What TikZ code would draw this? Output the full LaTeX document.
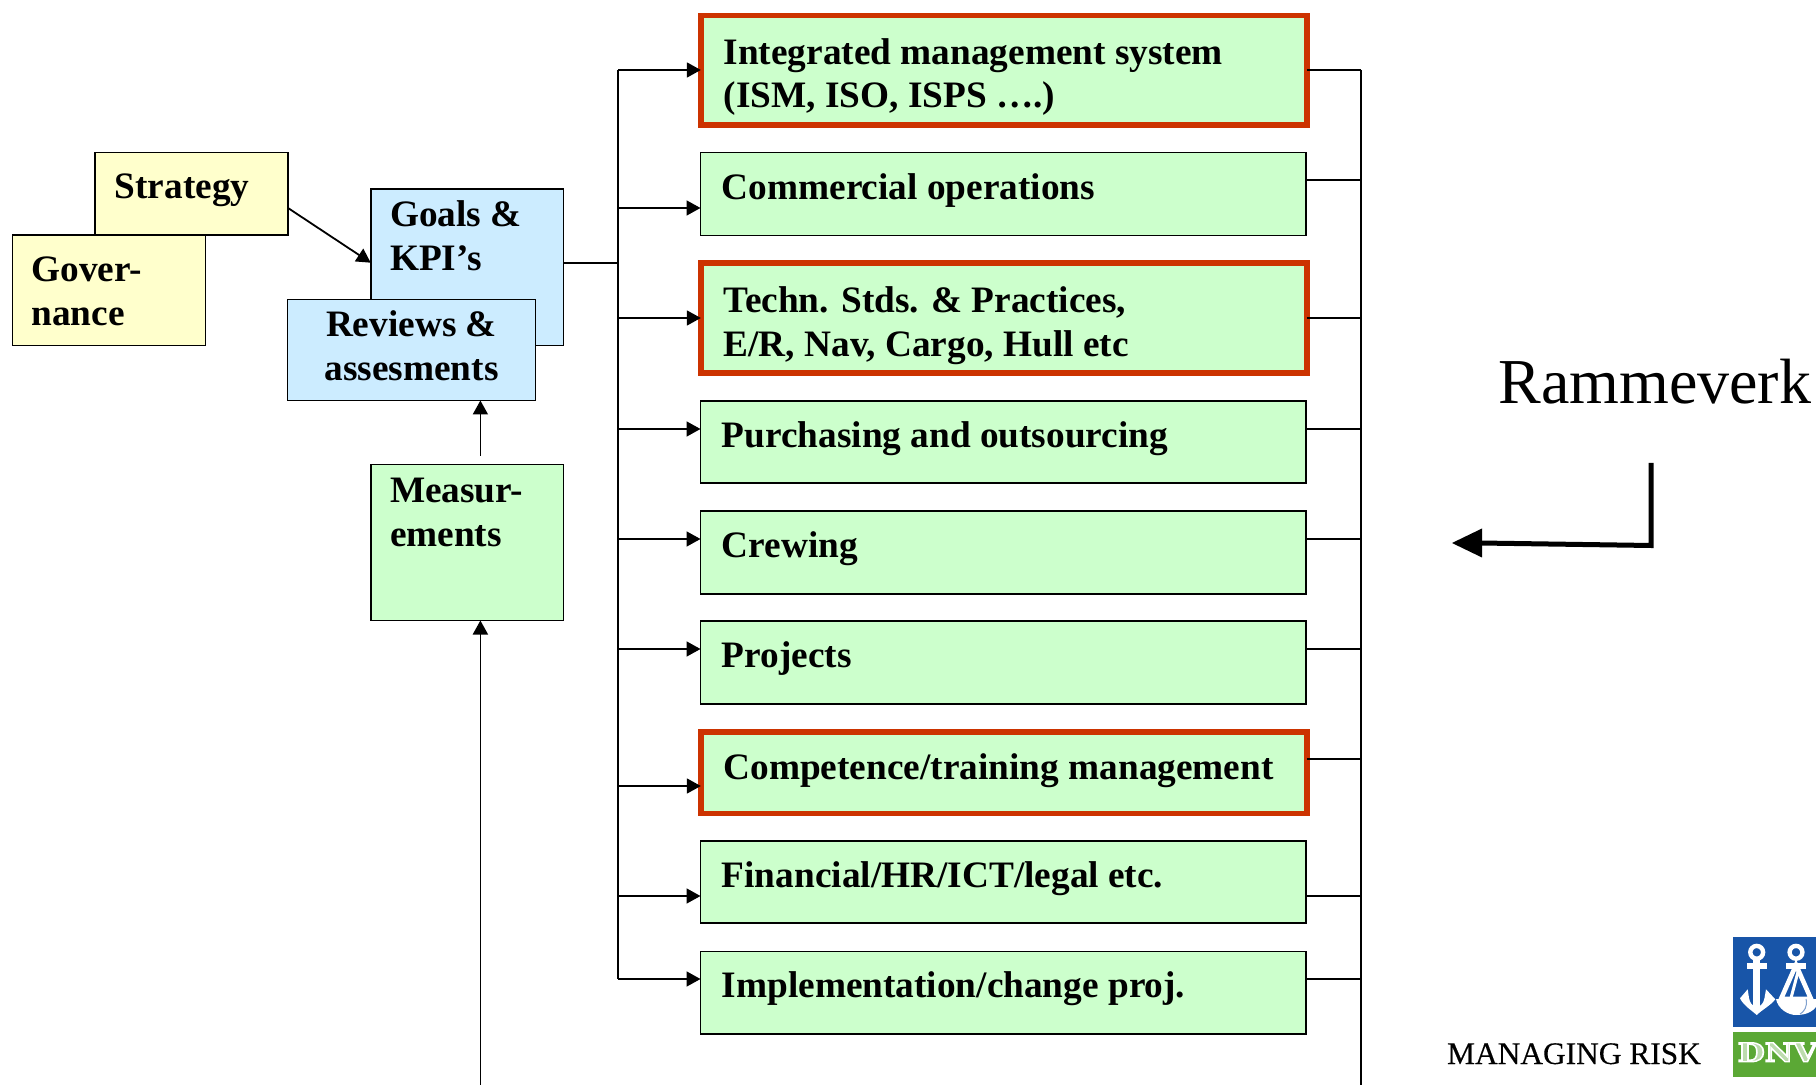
\documentclass[tikz,border=0pt]{standalone}
\usepackage{fontspec}
\setmainfont{Liberation Serif}
\newfontfamily\slabfont{DejaVu Serif}
\usetikzlibrary{arrows.meta}
\definecolor{boxgreen}{HTML}{CCFFCC}
\definecolor{boxblue}{HTML}{CCECFF}
\definecolor{boxyellow}{HTML}{FFFFCC}
\definecolor{boxred}{HTML}{CC3300}
\definecolor{logoblue}{HTML}{1855A8}
\definecolor{logogreen}{HTML}{5BA835}
\tikzset{
  basebox/.style={draw=black,line width=0.9pt,inner sep=0pt,outer sep=0pt,font=\fontsize{18.65}{21.9}\selectfont\bfseries},
  ybox/.style={basebox,fill=boxyellow},
  bbox/.style={basebox,fill=boxblue},
  gbox/.style={basebox,fill=boxgreen},
  rbox/.style={basebox,fill=boxgreen,draw=boxred,line width=2.8pt},
  conn/.style={draw=black,line width=0.9pt},
  arr/.style={conn,-{Triangle[length=7pt,width=7.5pt]}},
  bigarr/.style={draw=black,line width=2.5pt}
}
\newcommand{\bx}[9]{%
  \pgfmathsetmacro\bw{(#5-#3)/2}%
  \pgfmathsetmacro\bh{(#6-#4)/2}%
  \pgfmathsetmacro\bl{(#7-#3)/2}%
  \pgfmathsetmacro\bb{(#8-#4)/2}%
  \node[#2,anchor=north west] (#1) at (#3,#4) {\parbox[t][\bh pt][t]{\bw pt}{\leftskip=\bl pt \rightskip=0pt plus 1fil \parindent=0pt \rule{0pt}{\bb pt}#9}};%
}
\begin{document}
\begin{tikzpicture}[x=0.5pt,y=-0.5pt]
\useasboundingbox (0,0) rectangle (1816,1085);
% left boxes
\bx{strategy}{ybox}{95}{152.5}{288}{235}{114.7}{199}{Strategy}
\bx{gov}{ybox}{12.5}{235}{205.5}{345.5}{31.6}{282}{Gover-\\nance}
\bx{goals}{bbox}{370.7}{189}{563.5}{345.5}{390}{227}{Goals \&\\KPI’s}
\bx{reviews}{bbox}{287.5}{299.5}{535.5}{400.5}{287.5}{336.7}{\centering Reviews \&\\assesments}
\bx{meas}{gbox}{370.7}{464.5}{563.5}{620.5}{390}{502.5}{Measur-\\ements}
% process boxes
\bx{r1}{rbox}{700.8}{15.5}{1306.8}{125.2}{723.6}{64.2}{Integrated management system\\(ISM, ISO, ISPS ….)}
\bx{r2}{gbox}{700.5}{152.5}{1306.2}{235.5}{721.8}{200}{Commercial operations}
\bx{r3}{rbox}{700.8}{263}{1306.8}{373}{723.6}{312.5}{Techn. Stds. \& Practices,\\E/R, Nav, Cargo, Hull etc}
\bx{r4}{gbox}{700.5}{400.7}{1306.2}{483}{721.8}{447.2}{Purchasing and outsourcing}
\bx{r5}{gbox}{700.5}{510.7}{1306.2}{594}{721.8}{557.2}{Crewing}
\bx{r6}{gbox}{700.5}{620.7}{1306.2}{704}{721.8}{667.2}{Projects}
\bx{r7}{rbox}{700.8}{732}{1306.8}{813.5}{723.6}{779.3}{Competence/training management}
\bx{r8}{gbox}{700.5}{840.7}{1306.2}{923}{721.8}{887.2}{Financial/HR/ICT/legal etc.}
\bx{r9}{gbox}{700.5}{951.5}{1306.2}{1034}{721.8}{997.8}{Implementation/change proj.}
% junctions
\coordinate (ltop) at (618,70);
\coordinate (lbot) at (618,979);
\coordinate (rtop) at (1361,70);
\coordinate (rbot) at (1361,1085);
\coordinate (feed) at (618,263);
\coordinate (stratout) at (288,208);
\coordinate (goalsin) at (370.7,262.7);
\coordinate (measout) at (480.4,456);
\coordinate (measin) at (480.4,1085);
\draw[conn] (ltop) -- (lbot);
\draw[conn] (rtop) -- (rbot);
\draw[conn] (feed -| goals.east) -- (feed);
\draw[arr] (stratout) -- (goalsin);
\draw[arr] (measout) -- (measout |- reviews.south);
\draw[arr] (measin) -- (measin |- meas.south);
% left arrows
\foreach \n/\yy in {r1/70,r2/208,r3/318,r4/429,r5/539,r6/649,r7/786,r8/896,r9/979}{
  \coordinate (j) at (618,\yy);
  \draw[arr] (j) -- (j -| \n.west);
}
% right stubs
\foreach \n/\yy in {r1/70,r2/180,r3/318,r4/429,r5/539,r6/649,r7/759,r8/896,r9/979}{
  \coordinate (k) at (1361,\yy);
  \draw[conn] (k -| \n.east) -- (k);
}
% Rammeverk
\node[anchor=base west,inner sep=0pt,font=\fontsize{32}{36}\selectfont] (ramme) at (1498,403.3) {Rammeverk};
\coordinate (ba) at (1651,463);
\coordinate (bb) at (1651,545.5);
\coordinate (bc) at (1480,543);
\coordinate (bt) at (1452,543);
\draw[bigarr,line join=miter] (ba) -- (bb) -- (bc);
\fill[black] (bt) -- (1482,528.5) -- (1482,557.5) -- cycle;
% logo
\node[anchor=base west,inner sep=0pt,font=\fontsize{15.7}{18}\selectfont\addfontfeatures{FakeBold=0.25}] (risk) at (1446.7,1064) {MANAGING RISK};
\begin{scope}
\clip (1733,936.7) rectangle (1816,1076.7);
\fill[logoblue] (1733,936.7) rectangle (1816,1026.7);
\fill[logogreen] (1733,1031.7) rectangle (1816,1076.7);
  % anchor
  \draw[white,line width=2.2pt] (1756.7,952.3) circle[radius=6.4];
  \fill[white] (1746.7,962.7) rectangle (1766.7,969.3);
  \fill[white] (1753.3,958) rectangle (1760,1012);
  \fill[white] (1740,998.3) -- (1747.7,989.3) -- (1749,998)
        .. controls (1750,1003) and (1752,1006) .. (1756.7,1007)
        .. controls (1761.5,1006) and (1763.5,1003) .. (1764.5,998)
        -- (1766,989.3) -- (1775.3,999.3)
        .. controls (1770,1006) and (1763,1009) .. (1756.7,1015)
        .. controls (1750,1009) and (1744,1006) .. cycle;
  % scales
  \draw[white,line width=2.2pt] (1796,952.3) circle[radius=6.4];
  \fill[white] (1786,962.7) rectangle (1806,969.3);
  \draw[white,line width=2.3pt,line join=miter] (1796,965) -- (1781,999) -- (1811,999) -- cycle;
  \draw[white,line width=1.5pt] (1799,968) -- (1791,998);
  \fill[white] (1776,999) .. controls (1778,1009) and (1788,1015) .. (1796,1015)
        .. controls (1806,1015) and (1816,1012) .. (1820,999) -- cycle;
  \draw[logoblue!55,line width=0.5pt] (1806,999) .. controls (1808,1006) and (1804,1012) .. (1800,1014);
\node[anchor=base west,inner sep=0pt,text=logogreen!40!white,xscale=1.2,font=\fontsize{13}{15}\selectfont\slabfont\bfseries] (dnv) at (1737.2,1061.7) {\special{pdf:code 2 Tr 0.7 w 1 1 1 RG}DNV\special{pdf:code 0 Tr}};
\end{scope}
\end{tikzpicture}
\end{document}
